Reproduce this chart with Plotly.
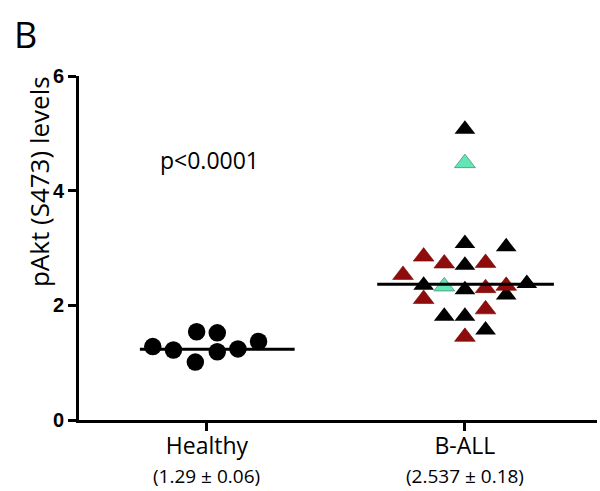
import plotly.graph_objects as go

# ---- data ----
categories = ["Healthy", "B-ALL"]
summaries = ["(1.29 ± 0.06)", "(2.537 ± 0.18)"]
cat_pos = [0, 1]

healthy_offset = [-0.21, -0.13, -0.04, -0.045, 0.04, 0.04, 0.12, 0.20]
healthy_values = [1.28, 1.22, 1.54, 1.01, 1.52, 1.19, 1.24, 1.37]
healthy_median = 1.235
healthy_median_span = [-0.26, 0.34]

ball_black_offset = [0, 0, 0.16, 0, -0.16, 0, 0.16, 0.24, -0.08, 0, 0.08]
ball_black_values = [5.07, 3.08, 3.02, 2.70, 2.35, 2.27, 2.18, 2.38, 1.81, 1.81, 1.57]
ball_red_offset = [-0.16, -0.08, 0.08, -0.24, 0.08, 0.16, -0.16, 0.08, 0]
ball_red_values = [2.85, 2.73, 2.74, 2.53, 2.30, 2.34, 2.11, 1.93, 1.45]
ball_teal_offset = [0, -0.08]
ball_teal_values = [4.48, 2.33]
ball_median = 2.367
ball_median_span = [-0.34, 0.345]

y_ticks = [0, 2, 4, 6]
p_text = "p<0.0001"
y_title = "pAkt (S473) levels"
panel = "B"

fig = go.Figure()

fig.add_trace(go.Scatter(
    x=[cat_pos[0] + o for o in healthy_offset], y=healthy_values,
    mode="markers", marker=dict(symbol="circle", size=17.5, color="black", line=dict(width=0)),
    showlegend=False, hoverinfo="y"))


def tri(offsets, values, color, lc, lw):
    return go.Scatter(
        x=[cat_pos[1] + o for o in offsets], y=values, mode="markers",
        marker=dict(symbol="triangle-up", size=18, color=color, line=dict(color=lc, width=lw)),
        showlegend=False, hoverinfo="y")


fig.add_trace(tri(ball_black_offset, ball_black_values, "black", "black", 0))
fig.add_trace(tri(ball_red_offset, ball_red_values, "#8e0c0c", "#7a0a0a", 0.6))
fig.add_trace(tri(ball_teal_offset, ball_teal_values, "#63e6b6", "#4a8f78", 0.8))

fig.add_trace(go.Scatter(
    x=[cat_pos[0] + s for s in healthy_median_span], y=[healthy_median] * 2,
    mode="lines", line=dict(color="black", width=3), showlegend=False, hoverinfo="skip"))
fig.add_trace(go.Scatter(
    x=[cat_pos[1] + s for s in ball_median_span], y=[ball_median] * 2,
    mode="lines", line=dict(color="black", width=3), showlegend=False, hoverinfo="skip"))

annotations = [
    dict(text=y_title, xref="paper", yref="paper", x=-0.077, y=0.692, textangle=-90,
         showarrow=False, font=dict(family="Open Sans", size=26, color="black"),
         xanchor="center", yanchor="middle"),
    dict(text=p_text, xref="x", yref="y", x=0.01, y=4.53, showarrow=False,
         font=dict(family="Open Sans", size=23, color="black"),
         xanchor="center", yanchor="middle"),
    dict(text=panel, xref="paper", yref="paper", x=-0.104, y=1.12, showarrow=False,
         font=dict(family="Open Sans", size=36, color="black"),
         xanchor="center", yanchor="middle"),
]
for pos, s in zip(cat_pos, summaries):
    annotations.append(dict(text=s, xref="x", yref="paper", x=pos, y=-0.163, showarrow=False,
                            font=dict(family="Open Sans", size=19, color="black"),
                            xanchor="center", yanchor="middle", borderpad=0))

fig.update_layout(
    width=600, height=491,
    margin=dict(l=79, r=3, t=76, b=71),
    paper_bgcolor="white", plot_bgcolor="white",
    font=dict(family="Open Sans", color="black"),
    xaxis=dict(range=[-0.496, 1.512], tickvals=cat_pos, ticktext=categories,
               showline=True, linecolor="black", linewidth=3, ticks="outside",
               ticklen=8, tickwidth=3, tickcolor="black", showgrid=False, zeroline=False,
               ticklabelstandoff=-5,
               tickfont=dict(family="Open Sans", size=23, color="black")),
    yaxis=dict(range=[0, 6], tickvals=y_ticks, showline=True, linecolor="black", linewidth=3,
               ticks="outside", ticklen=8, tickwidth=3, tickcolor="black", showgrid=False,
               zeroline=False,
               tickfont=dict(family="Liberation Sans", size=20, color="black", weight="bold")),
    annotations=annotations,
)

fig.write_html("out.html")
